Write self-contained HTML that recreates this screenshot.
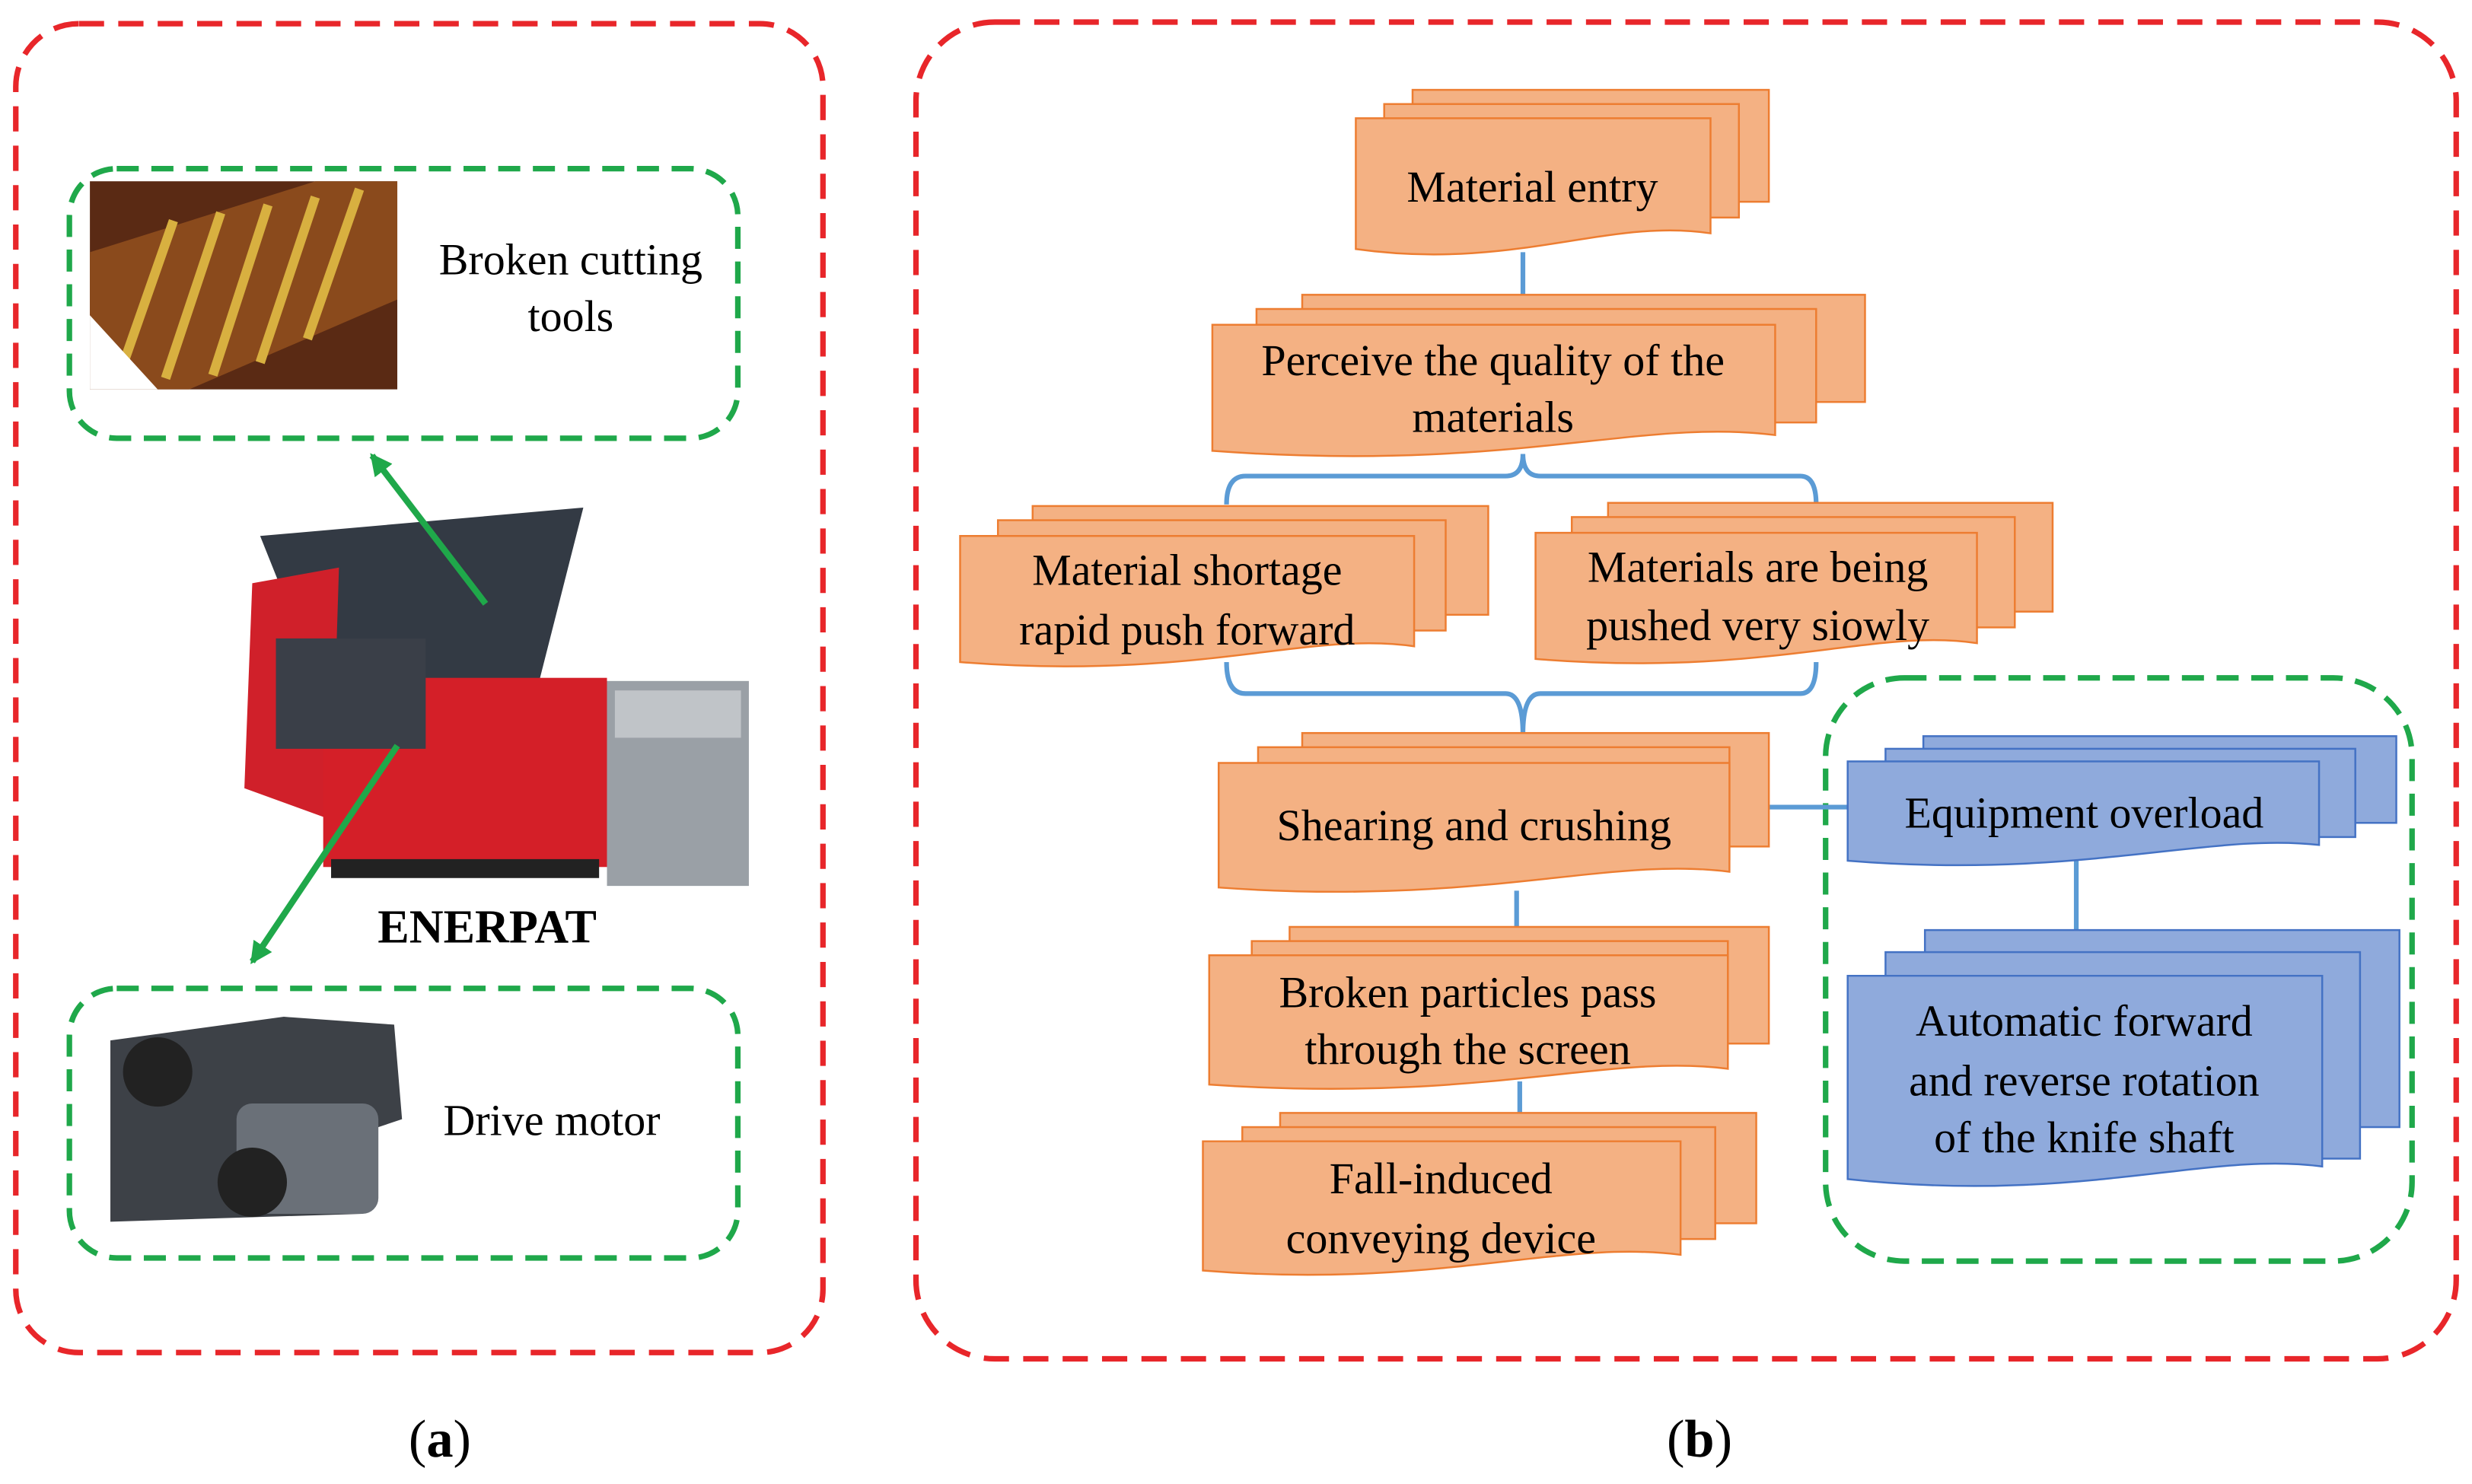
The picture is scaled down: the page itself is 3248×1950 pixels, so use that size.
<!DOCTYPE html>
<html><head><meta charset="utf-8"><style>
html,body{margin:0;padding:0;background:#fff;}
svg{display:block;}
text{font-family:"Liberation Serif",serif;fill:#000;}
</style></head><body>
<svg width="3248" height="1950" viewBox="0 0 1568 941.4" xmlns="http://www.w3.org/2000/svg">
<defs>
<marker id="ga" markerWidth="14" markerHeight="14" refX="12" refY="7" orient="auto" markerUnits="userSpaceOnUse"><path d="M0,0 L14,7 L0,14 z" fill="#1FA84A"/></marker>
</defs>
<rect x="0" y="0" width="1568" height="941.4" fill="#fff"/>
<rect x="10" y="15" width="512" height="843" rx="40" fill="none" stroke="#E8262A" stroke-width="3.5" stroke-dasharray="16,9"/>
<rect x="581" y="14" width="977" height="848" rx="50" fill="none" stroke="#E8262A" stroke-width="3.5" stroke-dasharray="16,9"/>
<rect x="44" y="107" width="424" height="171" rx="30" fill="none" stroke="#1FA84A" stroke-width="3.5" stroke-dasharray="14,8"/>
<rect x="44" y="627" width="424" height="171" rx="30" fill="none" stroke="#1FA84A" stroke-width="3.5" stroke-dasharray="14,8"/>
<rect x="1158" y="430" width="372" height="370" rx="50" fill="none" stroke="#1FA84A" stroke-width="3.5" stroke-dasharray="14,8"/>

<rect x="57" y="115" width="195" height="132" fill="#5a2a14"/>
<path d="M57,160 L200,115 L252,115 L252,190 L120,247 L57,247z" fill="#8a4a1c"/>
<g stroke="#d8b040" stroke-width="6" fill="none">
<path d="M75,240 L110,140"/><path d="M105,240 L140,135"/><path d="M135,238 L170,130"/><path d="M165,230 L200,125"/><path d="M195,215 L228,120"/>
</g>
<path d="M57,247 L57,200 L100,247z" fill="#fff"/>
<text x="362" y="174" font-size="28" text-anchor="middle">Broken cutting</text>
<text x="362" y="210" font-size="28" text-anchor="middle">tools</text>

<path d="M165,340 L370,322 L340,440 L205,440z" fill="#333a44"/>
<path d="M160,370 L215,360 L210,520 L155,500z" fill="#d0202a"/>
<rect x="205" y="430" width="180" height="120" fill="#d41f28"/>
<rect x="175" y="405" width="95" height="70" fill="#3a3f48"/>
<rect x="385" y="432" width="90" height="130" fill="#9aa0a6"/>
<rect x="390" y="438" width="80" height="30" fill="#c0c4c8"/>
<rect x="210" y="545" width="170" height="12" fill="#222"/>
<text x="309" y="598" font-size="30" font-weight="bold" text-anchor="middle">ENERPAT</text>

<path d="M70,660 L180,645 L250,650 L255,710 L225,720 L230,770 L70,775z" fill="#3d4147"/>
<rect x="150" y="700" width="90" height="70" rx="10" fill="#6a7078"/>
<circle cx="100" cy="680" r="22" fill="#222"/>
<circle cx="160" cy="750" r="22" fill="#222"/>
<text x="350" y="720" font-size="28" text-anchor="middle">Drive motor</text>

<line x1="308" y1="383" x2="236" y2="289" stroke="#1FA84A" stroke-width="4" marker-end="url(#ga)"/>
<line x1="252" y1="473" x2="160" y2="610" stroke="#1FA84A" stroke-width="4" marker-end="url(#ga)"/>

<g stroke="#5B9BD5" stroke-width="3" fill="none">
<path d="M966,160 V206"/>
<path d="M778,320 Q778,302 790,302 H955 Q966,302 966,288 Q966,302 977,302 H1142 Q1152,302 1152,320"/>
<path d="M778,420 Q778,440 790,440 H955 Q966,440 966,466 M1152,420 Q1152,440 1142,440 H977 Q966,440 966,466"/>
<path d="M962,565 V606"/>
<path d="M964,686 V724"/>
<path d="M1097,512 H1172"/>
<path d="M1317,546 V590"/>
</g>

<g stroke-width="1.2">
<g fill="#F4B183" stroke="#ED7D31">
<rect x="896" y="57" width="226" height="71"/><rect x="878" y="66" width="225" height="72"/>
<path d="M860,75 H1085 V148 C1020,138 960,172 860,158 Z"/>
</g>
<g fill="#F4B183" stroke="#ED7D31">
<rect x="826" y="187" width="357" height="68"/><rect x="797" y="196" width="355" height="72"/>
<path d="M769,206 H1126 V276 C1040,265 960,300 769,286 Z"/>
</g>
<g fill="#F4B183" stroke="#ED7D31">
<rect x="655" y="321" width="289" height="69"/><rect x="633" y="330" width="284" height="70"/>
<path d="M609,340 H897 V410 C830,400 760,432 609,420 Z"/>
</g>
<g fill="#F4B183" stroke="#ED7D31">
<rect x="1020" y="319" width="282" height="69"/><rect x="997" y="328" width="281" height="70"/>
<path d="M974,338 H1254 V408 C1190,398 1120,430 974,418 Z"/>
</g>
<g fill="#F4B183" stroke="#ED7D31">
<rect x="826" y="465" width="296" height="72"/><rect x="798" y="474" width="299" height="71"/>
<path d="M773,484 H1097 V553 C1020,543 940,575 773,563 Z"/>
</g>
<g fill="#F4B183" stroke="#ED7D31">
<rect x="818" y="588" width="304" height="74"/><rect x="794" y="597" width="302" height="73"/>
<path d="M767,606 H1096 V678 C1020,668 940,700 767,688 Z"/>
</g>
<g fill="#F4B183" stroke="#ED7D31">
<rect x="812" y="706" width="302" height="70"/><rect x="788" y="715" width="300" height="71"/>
<path d="M763,724 H1066 V796 C990,786 910,818 763,806 Z"/>
</g>
<g fill="#8FAADC" stroke="#4472C4">
<rect x="1220" y="467" width="300" height="55"/><rect x="1196" y="475" width="298" height="56"/>
<path d="M1172,483 H1471 V536 C1400,528 1320,558 1172,546 Z"/>
</g>
<g fill="#8FAADC" stroke="#4472C4">
<rect x="1221" y="590" width="301" height="125"/><rect x="1196" y="604" width="301" height="131"/>
<path d="M1172,619 H1473 V740 C1400,730 1320,764 1172,748 Z"/>
</g>
</g>

<g font-size="28" text-anchor="middle">
<text x="972" y="128">Material entry</text>
<text x="947" y="238">Perceive the quality of the</text>
<text x="947" y="274">materials</text>
<text x="753" y="371">Material shortage</text>
<text x="753" y="409">rapid push forward</text>
<text x="1115" y="369">Materials are being</text>
<text x="1115" y="406">pushed very siowly</text>
<text x="935" y="533">Shearing and crushing</text>
<text x="931" y="639">Broken particles pass</text>
<text x="931" y="675">through the screen</text>
<text x="914" y="757">Fall-induced</text>
<text x="914" y="795">conveying device</text>
<text x="1322" y="525">Equipment overload</text>
<text x="1322" y="657">Automatic forward</text>
<text x="1322" y="695">and reverse rotation</text>
<text x="1322" y="731">of the knife shaft</text>
</g>
<text x="279" y="924" font-size="34" text-anchor="middle">(<tspan font-weight="bold">a</tspan>)</text>
<text x="1078" y="924" font-size="34" text-anchor="middle">(<tspan font-weight="bold">b</tspan>)</text>
</svg>
</body></html>
